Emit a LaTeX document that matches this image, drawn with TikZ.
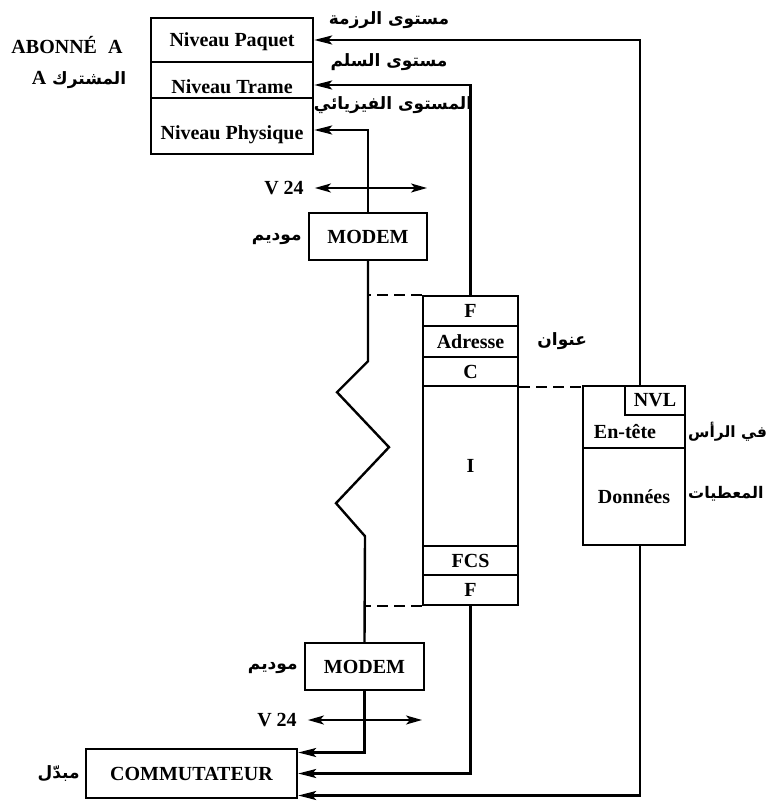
\documentclass[tikz,border=0pt]{standalone}
\usepackage{fontspec}
\setmainfont{Liberation Serif}
\newfontfamily\arabicfont[Script=Arabic]{DejaVu Sans}
\TeXXeTstate=1
\usetikzlibrary{calc}
\usetikzlibrary{arrows.meta}

\begin{document}
\begin{tikzpicture}[x=1pt,y=-1pt,line width=2.4pt,inner sep=0pt,
  font=\fontsize{20}{22}\selectfont\bfseries,
  box/.style={draw,minimum width=#1},
  arr/.style={-{Stealth[length=18pt,width=9pt,inset=4pt]}},
  both/.style={{Stealth[length=16pt,width=9pt,inset=4pt]}-{Stealth[length=16pt,width=9pt,inset=4pt]},line width=1.8pt},
  dsh/.style={dash pattern=on 11pt off 6pt,line width=2pt},
  ar/.style={font=\fontsize{17}{20}\selectfont\arabicfont\bfseries}]
\useasboundingbox (0,0) rectangle (771,802);

\node[box=162pt,minimum height=44pt,text height=14pt,text depth=0pt] (p1) at (232,40) {Niveau Paquet};
\node[box=162pt,minimum height=36pt,text height=28pt,text depth=0pt] (p2) at (232,80) {Niveau Trame};
\node[box=162pt,minimum height=56pt,text height=28pt,text depth=0pt] (p3) at (232,126) {Niveau Physique};
\node (ab1) at (67,45) {ABONNÉ\hspace{6pt} A};
\node[ar] (ab2) at (79,80) {\beginR المشترك {\rmfamily\fontsize{20}{22}\selectfont A}\endR};

\node[ar] (lv1) at (389,20) {\beginR مستوى الرزمة\endR};
\node[ar] (lv2) at (389,62) {\beginR مستوى السلم\endR};
\node[ar] (lv3) at (393,105) {\beginR المستوى الفيزيائي\endR};

\node[box=118pt,minimum height=47pt] (m1) at (368,236.5) {MODEM};
\node[box=119pt,minimum height=47pt] (m2) at (364.5,666.5) {MODEM};
\node[ar,anchor=east] (md1) at ($(m1.west)+(-5,3)$) {\beginR موديم\endR};
\node[ar,anchor=east] (md2) at ($(m2.west)+(-5,2)$) {\beginR موديم\endR};

\node (v1) at (284,188) {V 24};
\node (v2) at (277,720) {V 24};
\coordinate (v1e) at (427,188);
\coordinate (v2e) at (422,720);

\node[box=95pt,minimum height=30pt] (f1) at (470.5,311) {F};
\node[box=95pt,minimum height=31pt] (f2) at (470.5,341.5) {Adresse};
\node[box=95pt,minimum height=29pt] (f3) at (470.5,371.5) {C};
\node[box=95pt,minimum height=160pt] (f4) at (470.5,466) {I};
\node[box=95pt,minimum height=29pt] (f5) at (470.5,560.5) {FCS};
\node[box=95pt,minimum height=30pt] (f6) at (470.5,590) {F};
\node[ar,anchor=west] (adr) at ($(f2.east)+(17,0)$) {\beginR عنوان\endR};

\node[box=102pt,minimum height=62pt] (hd) at (634,417) {};
\node[box=102pt,minimum height=97pt] (dt) at (634,496.5) {Données};
\node[box=60pt,minimum height=29pt,anchor=north east] (nvl) at (hd.north east) {NVL};
\node (et) at (625,432) {En-tête};
\node[ar,anchor=west,font=\fontsize{15.5}{18}\selectfont\arabicfont\bfseries] (ras) at (687,432) {\beginR في الرأس\endR};
\node[ar,anchor=west,font=\fontsize{16}{18}\selectfont\arabicfont\bfseries] (mat) at (687,494) {\beginR المعطيات\endR};

\node[box=211pt,minimum height=49pt] (cm) at (191.5,773.5) {COMMUTATEUR};
\node[ar,anchor=east] (mb) at ($(cm.west)+(-4,0)$) {\beginR مبدّل\endR};

\coordinate (ra) at (640,38);
\draw[arr] (ra |- hd.north) |- (p1.east);
\draw[arr] (f1.north) |- ([yshift=-5pt]p2.east);
\draw[arr] (m1.north) |- ([yshift=-4pt]p3.east);
\draw[both] ([xshift=10pt]v1.east) -- (v1e);
\draw[both] ([xshift=10pt]v2.east) -- (v2e);
\draw (m1.south) -- ++(0,100) -- ++(-31,31) -- ++(52,55) -- ++(-53,56) -- ++(29,33) -- (m2.north);
\draw[dsh] (f1.north west) -- (f1.north west -| m1.south);
\draw[dsh] (f6.south west) -- (f6.south west -| m2.north);
\draw[dsh] (f3.south east) -- (f3.south east -| hd.west);
\draw[arr] (m2.south) |- ([yshift=21pt]cm.east);
\draw[arr] (f6.south) |- (cm.east);
\draw[arr] (ra |- dt.south) |- ([yshift=-22pt]cm.east);
\end{tikzpicture}
\end{document}
